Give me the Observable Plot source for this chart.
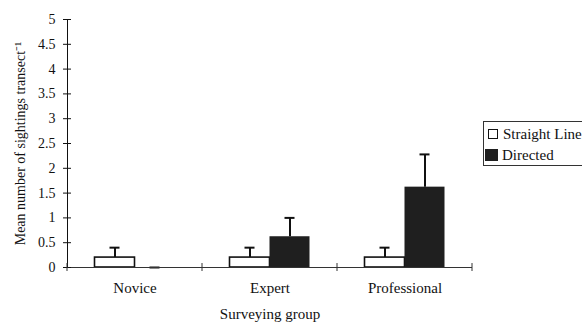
<!DOCTYPE html>
<html>
<head>
<meta charset="utf-8">
<script src="https://cdn.jsdelivr.net/npm/d3@7"></script>
<script src="https://cdn.jsdelivr.net/npm/@observablehq/plot@0.6"></script>
<style>
  body { margin: 0; background: #fff; }
  #wrap { position: relative; width: 582px; height: 322px; overflow: hidden; }
  #legend { position: absolute; left: 483px; top: 121px; width: 120px; height: 43px;
    border: 1px solid #333; font-family: "Liberation Serif", serif; font-size: 15px; color: #111; }
  .row { position: absolute; display: flex; align-items: center; white-space: nowrap; height: 18px; }
  .sw { box-sizing: border-box; }
</style>
</head>
<body>
<div id="wrap"></div>
<script>
const groups = ["Novice", "Expert", "Professional"];
const seriesNames = ["Straight Line", "Directed"];
const straightMean = [0.2, 0.2, 0.2];
const straightUpper = [0.4, 0.4, 0.4];
const directedMean = [0, 0.62, 1.62];
const directedUpper = [0, 1.0, 2.28];
const yTicks = [0, 0.5, 1, 1.5, 2, 2.5, 3, 3.5, 4, 4.5, 5];

const data = groups.map((g, i) => ({
  group: g,
  straight: straightMean[i], straightUp: straightUpper[i],
  directed: directedMean[i], directedUp: directedUpper[i]
}));

const plot = Plot.plot({
  width: 582,
  height: 322,
  marginLeft: 67,
  marginRight: 110,
  marginTop: 19,
  marginBottom: 55,
  style: { fontFamily: "Liberation Serif, serif", fontSize: "14px", color: "#111", background: "white" },
  x: { domain: groups, padding: 0, label: null },
  y: { domain: [0, 5] },
  marks: [
    Plot.barY(data, { x: "group", y: "straight", insetLeft: 27.5, insetRight: 67.5, fill: "white", stroke: "#111", strokeWidth: 1.6 }),
    Plot.barY(data, { x: "group", y: "directed", insetLeft: 67.5, insetRight: 27.5, fill: "#1f1f1f" }),
    Plot.ruleX(data, { x: "group", y1: "straight", y2: "straightUp", dx: -20, stroke: "#111", strokeWidth: 2 }),
    Plot.tickY(data, { x: "group", y: "straightUp", dx: -20, insetLeft: 62.5, insetRight: 62.5, stroke: "#111", strokeWidth: 2 }),
    Plot.ruleX(data, { x: "group", y1: "directed", y2: "directedUp", dx: 20, stroke: "#111", strokeWidth: 2 }),
    Plot.tickY(data, { x: "group", y: "directedUp", dx: 20, insetLeft: 62.5, insetRight: 62.5, stroke: "#111", strokeWidth: 2 }),
    Plot.ruleY([0], { stroke: "#333", strokeWidth: 1 }),
    Plot.frame({ anchor: "left", stroke: "#111" }),
    Plot.axisY({ ticks: yTicks, tickSize: 4, tickPadding: 8, tickFormat: d => String(d), fontSize: 14,
      label: "Mean number of sightings transect⁻¹", labelAnchor: "center", labelOffset: 52, labelArrow: "none" }),
    Plot.axisY({ ticks: yTicks, tickSize: -4, text: null, label: null }),
    Plot.axisX({ tickSize: 0, tickPadding: 15, fontSize: 15, label: "Surveying group", labelAnchor: "center", labelOffset: 51, labelArrow: "none" })
  ]
});

// boundary ticks on the x axis from the library's band scale
const xs = plot.scale("x");
const ys = plot.scale("y");
const bw = xs.bandwidth;
const edges = groups.map(g => xs.apply(g)).concat([xs.apply(groups[groups.length - 1]) + bw]);
const y0 = ys.apply(0);
d3.select(plot).append("g").attr("stroke", "#333")
  .selectAll("line").data(edges).join("line")
  .attr("x1", d => d).attr("x2", d => d)
  .attr("y1", y0 - 4).attr("y2", y0 + 4);

document.getElementById("wrap").appendChild(plot);

const legend = document.createElement("div");
legend.id = "legend";
legend.innerHTML =
  `<div class="row" style="top:3px;left:4px"><div class="sw" style="width:10px;height:10px;background:#fff;border:1.6px solid #111;margin-right:5px"></div>${seriesNames[0]}</div>` +
  `<div class="row" style="top:24px;left:1px"><div class="sw" style="width:13px;height:12px;background:#1f1f1f;margin-right:4px"></div>${seriesNames[1]}</div>`;
document.getElementById("wrap").appendChild(legend);
</script>
</body>
</html>
